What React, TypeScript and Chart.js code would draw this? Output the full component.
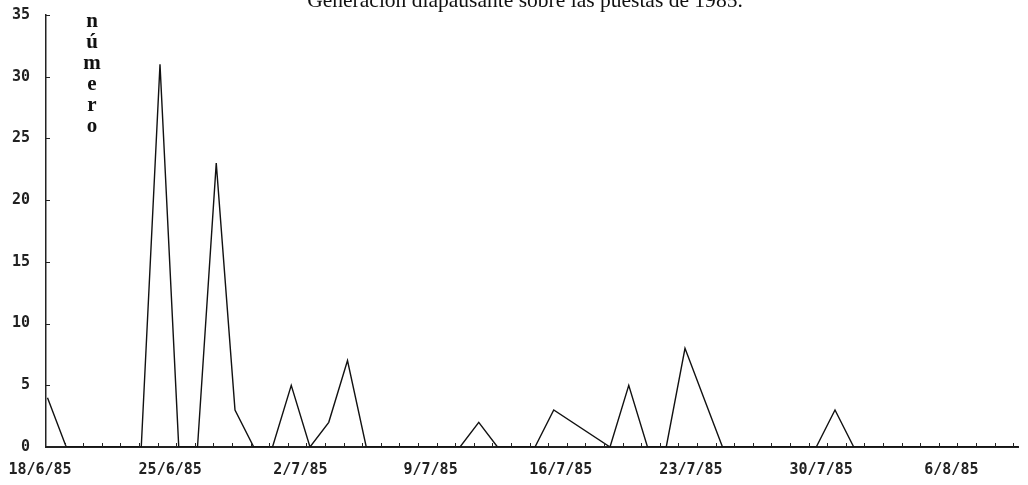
import { useEffect, useRef } from 'react';
import { Chart, registerables } from 'chart.js';

Chart.register(...registerables);

const title = 'Generación diapausante sobre las puestas de 1985.';
const yAxisLetters = ['n', 'ú', 'm', 'e', 'r', 'o'];
const yTickValues = [0, 5, 10, 15, 20, 25, 30, 35];
const xTickLabels = ['18/6/85', '25/6/85', '2/7/85', '9/7/85', '16/7/85', '23/7/85', '30/7/85', '6/8/85'];
// daily counts starting 18/6/85 (null = no reading, line bridges the gap)
const dailyCounts: (number | null)[] = [
  4, 0, 0, 0, 0, 0, 31, 0, 0, 23,
  3, 0, 0, 5, 0, 2, 7, 0, 0, 0,
  0, 0, 0, 2, 0, 0, 0, 3, null, null,
  0, 5, 0, 0, 8, 4, 0, 0, 0, 0,
  0, 0, 3, 0, 0, 0, 0, 0, 0, 0,
  0, 0, 0,
];

const MONO = '"DejaVu Sans Mono", monospace';
const SERIF = '"Liberation Serif", "DejaVu Serif", serif';

const decorPlugin = {
  id: 'decor',
  afterDraw(chart: any) {
    const { ctx, chartArea, scales } = chart;
    const x = scales.x;
    const y = scales.y;
    ctx.save();
    ctx.strokeStyle = '#222';
    ctx.lineWidth = 1;
    // x minor ticks (daily), drawn upward from the axis
    for (let d = 1; d < dailyCounts.length; d++) {
      const px = Math.round(x.getPixelForValue(d)) + 0.5;
      ctx.beginPath();
      ctx.moveTo(px, chartArea.bottom);
      ctx.lineTo(px, chartArea.bottom - 4);
      ctx.stroke();
    }
    // y ticks, drawn rightward from the axis
    for (const v of yTickValues) {
      if (v === 0) continue;
      const py = Math.round(y.getPixelForValue(v)) + 0.5;
      ctx.beginPath();
      ctx.moveTo(chartArea.left, py);
      ctx.lineTo(chartArea.left + 4, py);
      ctx.stroke();
    }
    // vertical axis title
    ctx.fillStyle = '#111';
    ctx.font = `bold 21px ${SERIF}`;
    ctx.textAlign = 'center';
    ctx.textBaseline = 'middle';
    yAxisLetters.forEach((ch, i) => {
      ctx.fillText(ch, 92, 22 + i * 21);
    });
    // chart title, partly cut at the top edge
    ctx.font = `20px ${SERIF}`;
    const w = ctx.measureText(title).width;
    const size = (20 * 436) / w;
    ctx.font = `${size}px ${SERIF}`;
    ctx.textBaseline = 'alphabetic';
    ctx.fillText(title, 525, 7);
    ctx.restore();
  },
};

export default function App() {
  const ref = useRef<HTMLCanvasElement | null>(null);

  useEffect(() => {
    if (!ref.current) return;
    const data = dailyCounts.map((v, i) => ({ x: i, y: v }));
    const chart = new Chart(ref.current, {
      type: 'line',
      data: {
        datasets: [
          {
            data: data as any,
            xAxisID: 'xData',
            borderColor: '#111',
            borderWidth: 1.4,
            pointRadius: 0,
            tension: 0,
            spanGaps: true,
          },
        ],
      },
      options: {
        animation: false,
        responsive: false,
        layout: { padding: { left: 0, right: 10, top: 15, bottom: 0 } },
        plugins: { legend: { display: false }, tooltip: { enabled: false }, title: { display: false } },
        scales: {
          x: {
            type: 'linear',
            min: 0,
            max: 52.26,
            afterFit(scale: any) {
              scale.height = 38;
              scale.paddingLeft = 0;
              scale.paddingRight = 0;
            },
            grid: { display: false, drawTicks: false },
            border: { display: true, color: '#222', width: 2 },
            ticks: {
              stepSize: 1,
              autoSkip: false,
              maxRotation: 0,
              padding: 14,
              labelOffset: -6,
              color: '#222',
              font: { family: MONO, size: 15, weight: 'bold' },
              callback: (value: any) => {
                const v = Number(value);
                if (Number.isInteger(v) && v % 7 === 0) return xTickLabels[v / 7] ?? '';
                return '';
              },
            },
          },
          // the plotted curve sits slightly off the printed day ticks in the original
          xData: {
            type: 'linear',
            display: false,
            min: -0.08,
            max: 51.76,
          },
          y: {
            min: 0,
            max: 35,
            afterFit(scale: any) {
              scale.width = 46;
              scale.paddingTop = 0;
              scale.paddingBottom = 0;
            },
            grid: { display: false, drawTicks: false },
            border: { display: true, color: '#222', width: 1.5 },
            ticks: {
              stepSize: 5,
              padding: 16,
              color: '#222',
              font: { family: MONO, size: 15, weight: 'bold' },
            },
          },
        },
      },
      plugins: [decorPlugin],
    });
    return () => chart.destroy();
  }, []);

  return (
    <div style={{ position: 'fixed', left: 0, top: 0, width: 1028, height: 485, background: '#fff' }}>
      <canvas ref={ref} width={1028} height={485} style={{ display: 'block' }} />
    </div>
  );
}
